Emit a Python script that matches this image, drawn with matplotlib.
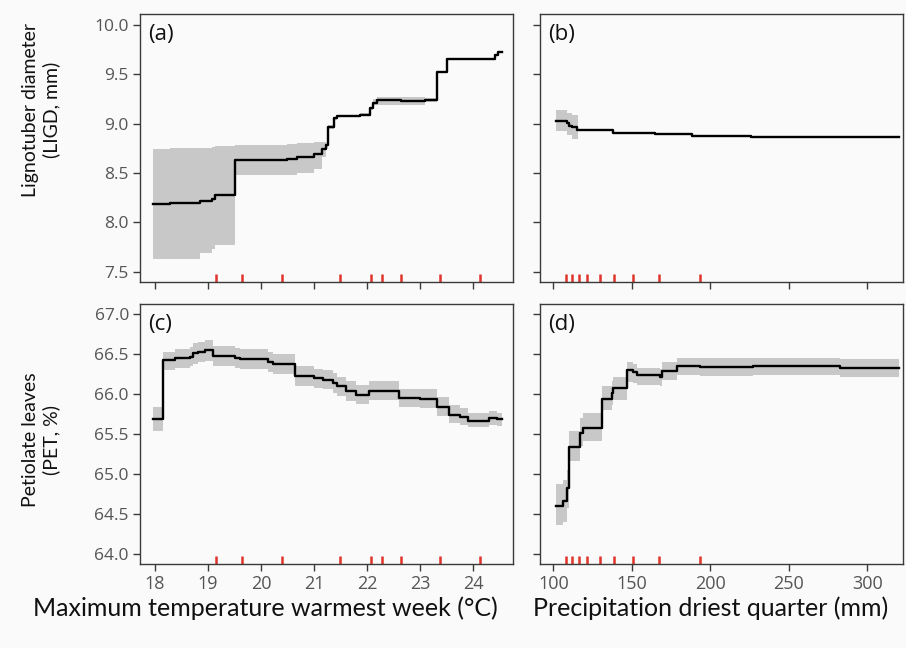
import matplotlib
matplotlib.use("Agg")
import matplotlib.pyplot as plt
import numpy as np

plt.rcParams['font.family'] = ['Open Sans', 'DejaVu Sans']

# ---------------- data ----------------
# Panel (a): LIGD vs max temperature warmest week (step-post knots)
a_x = [17.97, 18.28, 18.85, 19.07, 19.13, 19.51, 20.49, 20.68, 21.0, 21.15, 21.22,
       21.27, 21.37, 21.43, 21.87, 22.05, 22.12, 22.19, 22.63, 23.1, 23.32, 23.51,
       24.0, 24.42, 24.46, 24.55]
a_y = [8.186, 8.20, 8.22, 8.24, 8.277, 8.632, 8.645, 8.66, 8.69, 8.74, 8.78,
       8.97, 9.054, 9.078, 9.09, 9.155, 9.21, 9.236, 9.23, 9.24, 9.52, 9.655,
       9.65, 9.69, 9.72, 9.72]
a_lo = [7.625, 7.625, 7.686, 7.727, 7.77, 8.48, 8.48, 8.503, 8.537, 8.66, 8.75,
        8.95, 9.04, 9.065, 9.075, 9.14, 9.19, 9.19, 9.19, 9.22, 9.51, 9.645,
        9.64, 9.68, 9.71, 9.71]
a_hi = [8.743, 8.75, 8.755, 8.76, 8.77, 8.78, 8.795, 8.80, 8.81, 8.817, 8.80,
        8.99, 9.07, 9.09, 9.105, 9.17, 9.25, 9.273, 9.27, 9.26, 9.53, 9.665,
        9.66, 9.70, 9.73, 9.73]

# Panel (b): LIGD vs precipitation driest quarter
b_x = [101.7, 108.5, 110, 112, 115, 116, 138, 165, 188, 226, 320]
b_y = [9.027, 9.01, 8.975, 8.965, 8.935, 8.935, 8.90, 8.893, 8.878, 8.862, 8.862]
b_lo = [8.92, 8.88, 8.88, 8.845, 8.845, 8.93, 8.895, 8.888, 8.873, 8.857, 8.857]
b_hi = [9.14, 9.11, 9.11, 9.09, 9.09, 8.94, 8.905, 8.898, 8.883, 8.867, 8.867]

# Panel (c): PET vs max temperature warmest week
c_x = [17.97, 18.16, 18.38, 18.66, 18.72, 18.82, 18.95, 19.10, 19.51, 19.6, 20.14,
       20.23, 20.64, 21.0, 21.16, 21.35, 21.44, 21.6, 21.79, 22.04, 22.6, 23.0,
       23.32, 23.55, 23.75, 23.9, 24.3, 24.45, 24.55]
c_y = [65.686, 66.425, 66.458, 66.47, 66.515, 66.535, 66.555, 66.48, 66.458, 66.446, 66.405,
       66.373, 66.224, 66.20, 66.183, 66.14, 66.10, 66.042, 65.995, 66.045, 65.955, 65.94,
       65.84, 65.74, 65.715, 65.67, 65.70, 65.686, 65.686]
c_lo = [65.536, 66.30, 66.33, 66.35, 66.38, 66.40, 66.41, 66.35, 66.33, 66.32, 66.28,
        66.25, 66.10, 66.08, 66.06, 66.02, 65.98, 65.92, 65.88, 65.93, 65.84, 65.83,
        65.73, 65.64, 65.62, 65.59, 65.61, 65.60, 65.60]
c_hi = [65.84, 66.535, 66.57, 66.59, 66.64, 66.66, 66.68, 66.61, 66.58, 66.57, 66.53,
        66.50, 66.35, 66.32, 66.30, 66.26, 66.22, 66.16, 66.12, 66.16, 66.07, 66.06,
        65.96, 65.86, 65.83, 65.77, 65.79, 65.767, 65.767]

# Panel (d): PET vs precipitation driest quarter
d_x = [101.7, 106.4, 108.5, 110, 117, 119.1, 130.8, 137.2, 138.2, 147.1, 151, 153,
       168, 169, 178.6, 193.5, 227, 282.6, 320]
d_y = [64.606, 64.667, 64.83, 65.345, 65.516, 65.58, 65.94, 66.02, 66.074, 66.30, 66.28, 66.236,
       66.21, 66.29, 66.355, 66.34, 66.35, 66.325, 66.325]
d_lo = [64.357, 64.40, 64.58, 65.17, 65.35, 65.415, 65.80, 65.87, 65.93, 66.15, 66.14, 66.12,
        66.10, 66.18, 66.24, 66.23, 66.24, 66.21, 66.21]
d_hi = [64.878, 64.92, 65.05, 65.536, 65.70, 65.767, 66.10, 66.17, 66.22, 66.405, 66.38, 66.33,
        66.32, 66.40, 66.46, 66.45, 66.46, 66.437, 66.437]

# rug positions
rug_temp = [19.16, 19.65, 20.4, 21.49, 22.08, 22.28, 22.64, 23.37, 24.13]
rug_prec = [107.9, 112.1, 116.4, 121.3, 129.8, 138.9, 150.6, 167.2, 193.7]

temp_ticks = [18, 19, 20, 21, 22, 23, 24]
prec_ticks = [100, 150, 200, 250, 300]
ligd_ticks = [7.5, 8.0, 8.5, 9.0, 9.5, 10.0]
pet_ticks = [64.0, 64.5, 65.0, 65.5, 66.0, 66.5, 67.0]

panel_labels = ['(a)', '(b)', '(c)', '(d)']
xlabels = ['Maximum temperature warmest week (°C)', 'Precipitation driest quarter (mm)']
ylabels = ['Lignotuber diameter\n(LIGD, mm)', 'Petiolate leaves\n(PET, %)']

# ---------------- figure ----------------
BG = '#fafafa'
fig = plt.figure(figsize=(9.06, 6.48), dpi=100, facecolor=BG)

W, H = 906, 648
def ax_at(l, r, t, b):
    return fig.add_axes([l / W, 1 - b / H, (r - l) / W, (b - t) / H])

axa = ax_at(140, 513, 14, 282)
axb = ax_at(540, 903, 14, 282)
axc = ax_at(140, 513, 304, 564)
axd = ax_at(540, 903, 304, 564)

panels = [
    (axa, a_x, a_y, a_lo, a_hi, rug_temp),
    (axb, b_x, b_y, b_lo, b_hi, rug_prec),
    (axc, c_x, c_y, c_lo, c_hi, rug_temp),
    (axd, d_x, d_y, d_lo, d_hi, rug_prec),
]

for i, (ax, x, y, lo, hi, rug) in enumerate(panels):
    ax.set_facecolor(BG)
    ax.fill_between(x, lo, hi, step='post', color='#c8c8c8', linewidth=0)
    ax.step(x, y, where='post', color='black', lw=1.7)
    ax.vlines(rug, 0, 0.03, transform=ax.get_xaxis_transform(), color='#e0332b', lw=1.8)
    ax.text(0.022, 0.962, panel_labels[i], transform=ax.transAxes, ha='left', va='top',
            fontsize=16, color='#111111')
    for s in ax.spines.values():
        s.set_color('#3a3a3a')
        s.set_linewidth(1.0)
    ax.tick_params(direction='out', length=5, width=1, color='#3a3a3a',
                   labelsize=12.5, labelcolor='#555555', pad=3)

for ax in (axa, axc):
    ax.set_xlim(17.72, 24.75)
    ax.set_xticks(temp_ticks)
for ax in (axb, axd):
    ax.set_xlim(91.5, 322.7)
    ax.set_xticks(prec_ticks)
for ax in (axa, axb):
    ax.set_ylim(7.395, 10.11)
    ax.set_yticks(ligd_ticks)
for ax in (axc, axd):
    ax.set_ylim(63.874, 67.13)
    ax.set_yticks(pet_ticks)

axa.set_yticklabels([f'{v:.1f}' for v in ligd_ticks])
axc.set_yticklabels([f'{v:.1f}' for v in pet_ticks])
axb.set_yticklabels([])
axd.set_yticklabels([])
axa.set_xticklabels([])
axb.set_xticklabels([])
axc.set_xticklabels([str(v) for v in temp_ticks])
axd.set_xticklabels([str(v) for v in prec_ticks])
axc.tick_params(axis='x', pad=3, labelsize=13)
axd.tick_params(axis='x', pad=3, labelsize=13)

# axis titles
fig.text(265 / W, 1 - 608 / H, xlabels[0], ha='center', va='center',
         fontsize=18, color='#111111', family=['Lato', 'DejaVu Sans'])
fig.text(711 / W, 1 - 608 / H, xlabels[1], ha='center', va='center',
         fontsize=18, color='#111111', family=['Lato', 'DejaVu Sans'])
fig.text(41 / W, 1 - 110 / H, ylabels[0], ha='center', va='center', rotation=90,
         fontsize=14, color='#111111', linespacing=1.2, multialignment='center',
         family=['Lato', 'DejaVu Sans'])
fig.text(41 / W, 1 - 440 / H, ylabels[1], ha='center', va='center', rotation=90,
         fontsize=14, color='#111111', linespacing=1.2, multialignment='center',
         family=['Lato', 'DejaVu Sans'])

fig.savefig('out.png', dpi=100, facecolor=BG)
